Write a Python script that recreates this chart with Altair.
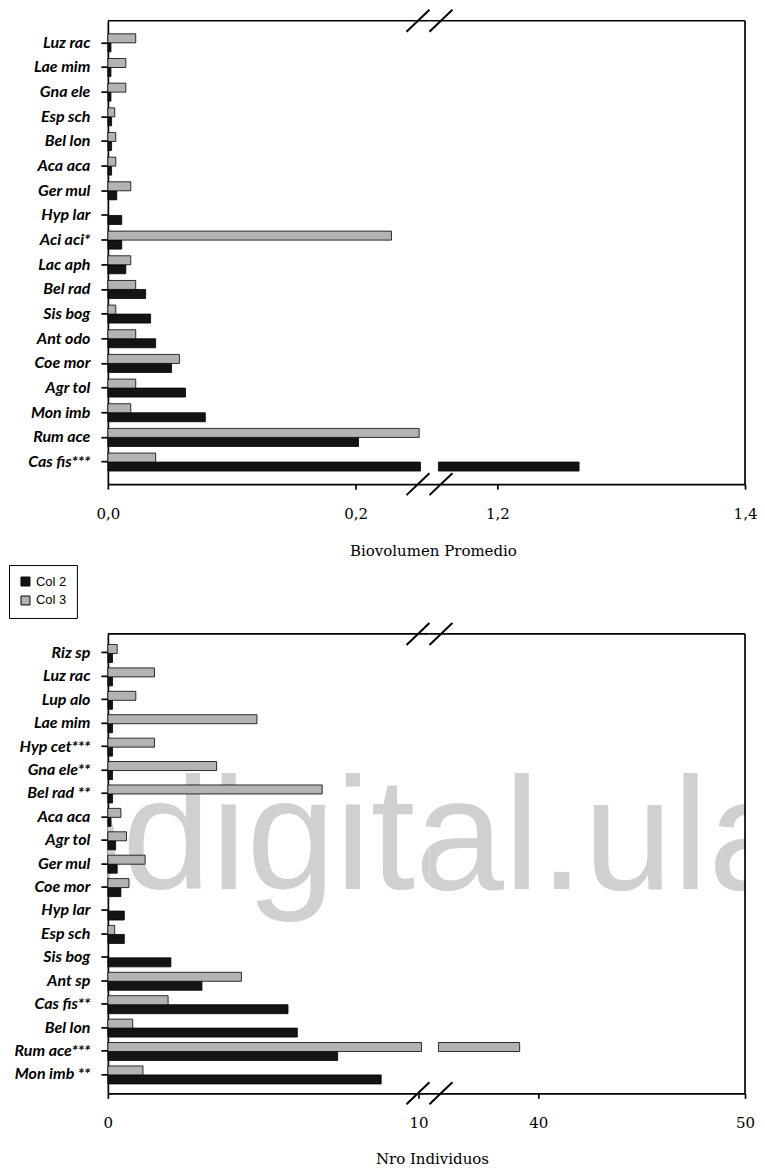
import altair as alt
import pandas as pd

# ---------------- data ----------------
series_names = ["Col 2", "Col 3"]

top_species = ["Luz rac", "Lae mim", "Gna ele", "Esp sch", "Bel lon", "Aca aca",
               "Ger mul", "Hyp lar", "Aci  aci*", "Lac aph", "Bel rad", "Sis bog",
               "Ant odo", "Coe mor", "Agr tol", "Mon imb", "Rum ace", "Cas fis***"]
top_col2 = [0.0025, 0.0025, 0.0025, 0.003, 0.003, 0.003, 0.0072, 0.0112, 0.0112,
            0.0145, 0.0305, 0.0345, 0.0386, 0.0514, 0.0627, 0.0787, 0.2024, 1.266]
top_col3 = [0.0225, 0.0145, 0.0145, 0.0056, 0.0064, 0.0064, 0.0185, 0.0, 0.229,
            0.0185, 0.0225, 0.0064, 0.0225, 0.0578, 0.0225, 0.0185, 0.2514, 0.0386]

bot_species = ["Riz sp", "Luz rac", "Lup alo", "Lae mim", "Hyp cet***", "Gna ele**",
               "Bel rad **", "Aca aca", "Agr tol", "Ger mul", "Coe mor", "Hyp lar",
               "Esp sch", "Sis bog", "Ant sp", "Cas fis**", "Bel lon", "Rum ace***",
               "Mon  imb **"]
bot_col2 = [0.15, 0.15, 0.15, 0.15, 0.15, 0.15, 0.15, 0.1, 0.25, 0.3, 0.42, 0.53,
            0.53, 2.03, 3.03, 5.8, 6.1, 7.4, 8.8]
bot_col3 = [0.3, 1.5, 0.9, 4.8, 1.5, 3.5, 6.9, 0.42, 0.6, 1.2, 0.68, 0.0, 0.22,
            0.0, 4.3, 1.94, 0.8, 39.1, 1.13]

top_ticks_left = [0.0, 0.2]
top_ticks_right = [1.2, 1.4]
bot_ticks_left = [0, 10]
bot_ticks_right = [40, 50]

top_title = "Biovolumen Promedio"
bot_title = "Nro Individuos"
watermark = "www.bdigital.ula.ve"


def to_long(species, c2, c3):
    rows = []
    for s, a, b in zip(species, c2, c3):
        rows.append({"species": s, "series": series_names[0], "value": a})
        rows.append({"species": s, "series": series_names[1], "value": b})
    return pd.DataFrame(rows)


top_df = to_long(top_species, top_col2, top_col3)
bot_df = to_long(bot_species, bot_col2, bot_col3)

# ---------------- style ----------------
LINE_W = 1.7
color_scale = alt.Scale(domain=series_names, range=["#141414", "#b3b3b3"])
legend = alt.Legend(title=None, orient="none", legendX=-99, legendY=545,
                    strokeColor="black", fillColor="white", padding=10,
                    rowPadding=5, labelFont="Liberation Sans", labelFontSize=13,
                    labelColor="black", symbolType="square", symbolSize=80,
                    symbolStrokeColor="black", symbolStrokeWidth=1)

one = pd.DataFrame({"k": [0]})


def rule(x, y, x2, y2, w=LINE_W):
    return alt.Chart(one).mark_rule(color="black", strokeWidth=w).encode(
        x=alt.value(x), y=alt.value(y), x2=alt.value(x2), y2=alt.value(y2))


def panel(df, cats, W, H, dom, ticks, fmt, first, brk, pad_in, pad_out,
          title=None, title_pos=(0, 0), wm_x=None, wm_y=None):
    if first:
        base = alt.Chart(df).transform_filter("datum.value > 0").transform_calculate(
            x0="0", x1=f"min(datum.value, {brk})")
        yaxis = alt.Axis(title=None, tickSize=7, labelPadding=11, labelFont="Lato",
                         labelFontSize=16, labelFontStyle="italic",
                         labelFontWeight="bold", labelColor="black", labelLimit=300)
    else:
        base = alt.Chart(df).transform_filter(f"datum.value > {brk}").transform_calculate(
            x0=f"{brk}", x1="datum.value")
        yaxis = None
    xaxis = alt.Axis(values=ticks, labelExpr=fmt, title=None, tickSize=5,
                     labelPadding=17, grid=False, labelFont="DejaVu Serif",
                     labelFontSize=15, labelColor="black", labelFlush=False,
                     labelOverlap=False)
    bars = base.mark_bar(stroke="black", strokeWidth=0.8).encode(
        y=alt.Y("species:N", scale=alt.Scale(domain=cats, paddingInner=pad_in,
                                             paddingOuter=pad_out), axis=yaxis),
        yOffset=alt.YOffset("series:N", scale=alt.Scale(domain=["Col 3", "Col 2"])),
        x=alt.X("x0:Q", scale=alt.Scale(domain=dom, nice=False, zero=False),
                axis=xaxis),
        x2="x1:Q",
        color=alt.Color("series:N", scale=color_scale, legend=legend),
    )
    layers = []
    if wm_x is not None:
        layers.append(alt.Chart(one).mark_text(
            clip=True, font="Liberation Sans", fontSize=160, color="#d0d0d0",
            align="left", baseline="alphabetic", text=watermark).encode(
            x=alt.value(wm_x), y=alt.value(wm_y)))
    layers.append(bars)
    layers.append(rule(0, 0, W, 0))  # top frame
    if first:
        layers.append(rule(W - 23, H + 11, W, H - 11, 2))
        layers.append(rule(W - 23, 11, W, -11, 2))
    else:
        layers.append(rule(W, 0, W, H))  # right frame
        layers.append(rule(0, H + 11, 23, H - 11, 2))
        layers.append(rule(0, 11, 23, -11, 2))
    if title is not None:
        layers.append(alt.Chart(one).mark_text(
            font="DejaVu Serif", fontSize=15, color="black", align="center",
            baseline="middle", text=title).encode(
            x=alt.value(title_pos[0]), y=alt.value(H + title_pos[1])))
    return alt.layer(*layers).properties(width=W, height=H)


dec_fmt = "replace(format(datum.value, '.1f'), '.', ',')"
int_fmt = "format(datum.value, 'd')"

TH = 464
BH = 460
W1 = 322
W2 = 316
GAP = 150

# top chart: 0 at 107, 1240 px per unit
t1 = panel(top_df, top_species, W1, TH, [0, W1 / 1240], top_ticks_left, dec_fmt,
           True, 313 / 1240, 0.27, 0.53)
t2 = panel(top_df, top_species, W2, TH, [1.4 - W2 / 1240, 1.4], top_ticks_right,
           dec_fmt, False, 1.4 - 307 / 1240, 0.27, 0.53,
           title=top_title, title_pos=(4, 67))

# bottom chart: 0 at 107, 31.1 px per unit; 20.7 px per unit after the break
b1 = panel(bot_df, bot_species, W1, BH, [0, W1 / 31.1], bot_ticks_left, int_fmt,
           True, 314 / 31.1, 0.28, 0.45, wm_x=-457, wm_y=255)
b2 = panel(bot_df, bot_species, W2, BH, [50 - W2 / 20.7, 50], bot_ticks_right,
           int_fmt, False, 50 - 307 / 20.7, 0.28, 0.45,
           title=bot_title, title_pos=(3, 66), wm_x=-457 - W1, wm_y=255)

chart = alt.concat(t1, t2, b1, b2, columns=2,
                   spacing=alt.RowColnumber(row=GAP, column=0), bounds="flush",
                   padding=0, background="white").configure_view(
    stroke=None).configure_axis(
    domainColor="black", domainWidth=LINE_W, tickColor="black", tickWidth=LINE_W)

chart.save("out.html", embed_options={"renderer": "svg", "actions": False})
